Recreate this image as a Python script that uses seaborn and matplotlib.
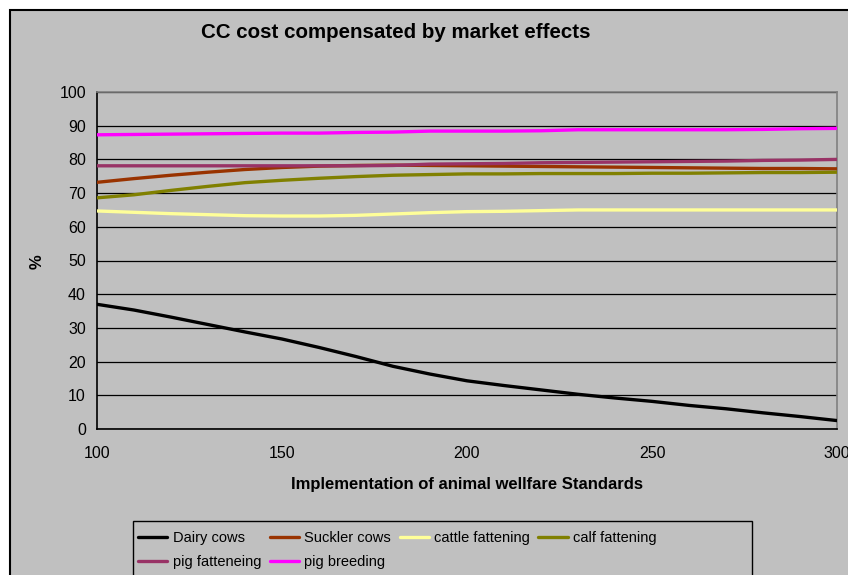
import pandas as pd
import matplotlib
matplotlib.use('Agg')
import matplotlib.pyplot as plt
import matplotlib.patches as mpatches
import seaborn as sns

# -----------------------------
# DATA
# -----------------------------
standards = [100, 110, 120, 130, 140, 150, 160, 170, 180, 190, 200,
             210, 220, 230, 240, 250, 260, 270, 280, 290, 300]

dairy_cows = [37.0, 35.3, 33.2, 31.0, 28.8, 26.7, 24.2, 21.5, 18.6, 16.3, 14.3,
              12.9, 11.6, 10.3, 9.2, 8.2, 7.0, 6.0, 4.8, 3.7, 2.5]
suckler_cows = [73.2, 74.3, 75.3, 76.2, 77.0, 77.6, 78.0, 78.2, 78.3, 78.2, 78.1,
                78.0, 77.9, 77.8, 77.7, 77.6, 77.5, 77.4, 77.3, 77.3, 77.2]
cattle_fattening = [64.7, 64.3, 63.9, 63.6, 63.3, 63.2, 63.2, 63.4, 63.8, 64.2, 64.5,
                    64.6, 64.8, 65.0, 65.0, 65.0, 65.0, 65.0, 65.0, 65.0, 65.0]
calf_fattening = [68.6, 69.5, 70.8, 72.0, 73.1, 73.8, 74.4, 74.9, 75.3, 75.5, 75.7,
                  75.7, 75.8, 75.8, 75.8, 75.9, 75.9, 76.0, 76.1, 76.1, 76.2]
pig_fattening = [78.1, 78.1, 78.1, 78.1, 78.1, 78.1, 78.1, 78.1, 78.2, 78.6, 78.7,
                 78.8, 79.0, 79.1, 79.2, 79.3, 79.4, 79.5, 79.7, 79.8, 80.0]
pig_breeding = [87.3, 87.4, 87.5, 87.6, 87.7, 87.8, 87.8, 88.0, 88.1, 88.4, 88.4,
                88.4, 88.5, 88.8, 88.8, 88.8, 88.8, 88.8, 88.9, 89.1, 89.2]

series_names = ['Dairy cows', 'Suckler cows', 'cattle fattening',
                'calf fattening', 'pig fatteneing', 'pig breeding']
series_values = [dairy_cows, suckler_cows, cattle_fattening,
                 calf_fattening, pig_fattening, pig_breeding]
colors = ['#000000', '#993300', '#FFFF99', '#808000', '#993366', '#FF00FF']

rows = []
for name, vals in zip(series_names, series_values):
    for x, v in zip(standards, vals):
        rows.append({'standard': x, 'value': v, 'series': name})
df = pd.DataFrame(rows)

# -----------------------------
# PLOT
# -----------------------------
sns.set_style('white')
plt.rcParams['font.family'] = ['Liberation Sans', 'DejaVu Sans']
plt.rcParams['text.color'] = 'black'
plt.rcParams['axes.labelcolor'] = 'black'
plt.rcParams['xtick.color'] = 'black'
plt.rcParams['ytick.color'] = 'black'

fig = plt.figure(figsize=(8.48, 5.75), dpi=100)
fig.patch.set_facecolor('white')

# grey chart area with black frame
fig.patches.append(mpatches.Rectangle(
    (10 / 848, -0.1), 1.0, 1 - 10 / 575 + 0.1,
    transform=fig.transFigure, facecolor='#C0C0C0',
    edgecolor='black', linewidth=1.5, zorder=-10))

ax = fig.add_axes([97 / 848, 1 - 429 / 575, (837 - 97) / 848, (429 - 92) / 575])
ax.set_facecolor('#C0C0C0')

sns.lineplot(data=df, x='standard', y='value', hue='series',
             hue_order=series_names, palette=dict(zip(series_names, colors)),
             linewidth=2.4, ax=ax, legend=False, zorder=3)

ax.set_xlim(100, 300)
ax.set_ylim(0, 100)
ax.set_xticks([100, 150, 200, 250, 300])
ax.set_yticks(range(0, 101, 10))
ax.tick_params(axis='both', labelsize=11.5, length=4, width=1,
               direction='out', color='black', labelcolor='black')
ax.tick_params(axis='y', pad=4)
ax.tick_params(axis='x', pad=8)
ax.yaxis.grid(True, color='black', linewidth=0.9)
ax.xaxis.grid(False)

for side in ['left', 'bottom']:
    ax.spines[side].set_color('black')
    ax.spines[side].set_linewidth(1.2)
for side in ['top', 'right']:
    ax.spines[side].set_color('#808080')
    ax.spines[side].set_linewidth(1.2)

ax.set_xlabel('Implementation of animal wellfare Standards',
              fontsize=12, fontweight='bold', labelpad=12)
ax.set_ylabel('%', fontsize=12, fontweight='bold')
ax.yaxis.set_label_coords((45 - 97) / 740, 0.496)

fig.text(396 / 848, 1 - 33 / 575, 'CC cost compensated by market effects',
         ha='center', va='center', fontsize=14.8, fontweight='bold')

# legend box drawn separately so it can be as wide as the original
fig.patches.append(mpatches.Rectangle(
    (133 / 848, -0.05), (752 - 133) / 848, 1 - 521 / 575 + 0.05,
    transform=fig.transFigure, facecolor='#C0C0C0',
    edgecolor='black', linewidth=1.0, zorder=-5))

# legend filled row by row like the original (matplotlib fills by column)
leg_order = [0, 4, 1, 5, 2, 3]
handles = [plt.Line2D([0], [0], color=colors[i], linewidth=2.4) for i in leg_order]
labels = [series_names[i] for i in leg_order]
leg = fig.legend(handles, labels, ncol=4, loc='upper left',
                 bbox_to_anchor=(131 / 848, 1 - 524 / 575),
                 fontsize=10.5, frameon=False,
                 handlelength=2.0, handletextpad=0.35,
                 columnspacing=0.6, borderpad=0.5, labelspacing=0.65,
                 borderaxespad=0)

plt.savefig('out.png', dpi=100, facecolor=fig.get_facecolor())
plt.close()
